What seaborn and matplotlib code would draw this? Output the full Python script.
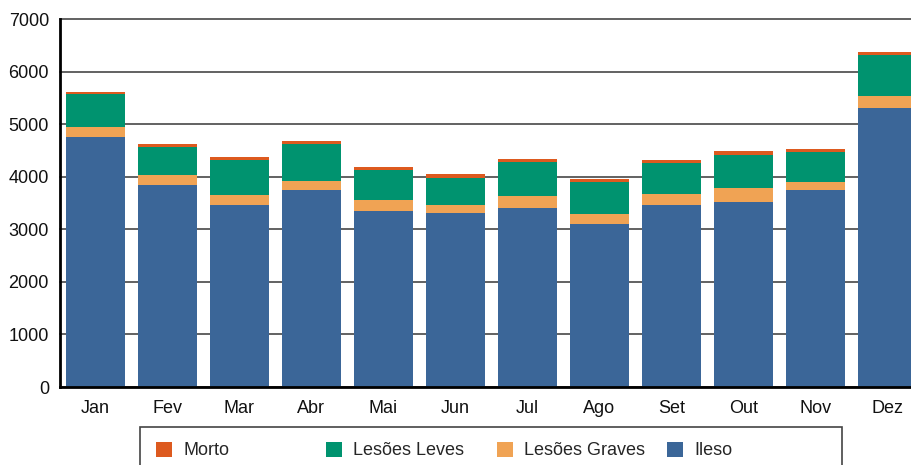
import matplotlib
matplotlib.use("Agg")
import matplotlib.pyplot as plt
import seaborn as sns
import pandas as pd
from matplotlib.patches import Patch, Rectangle

meses = ["Jan", "Fev", "Mar", "Abr", "Mai", "Jun", "Jul", "Ago", "Set", "Out", "Nov", "Dez"]
ileso = [4750, 3840, 3460, 3745, 3345, 3310, 3400, 3100, 3460, 3515, 3745, 5305]
lesoes_graves = [190, 190, 190, 170, 210, 150, 230, 190, 210, 265, 150, 230]
lesoes_leves = [630, 530, 670, 700, 570, 515, 645, 610, 590, 630, 570, 780]
morto = [50, 60, 55, 60, 60, 75, 55, 55, 55, 75, 55, 55]

cores = {
    "Morto": "#DD5A1F",
    "Lesões Leves": "#00936F",
    "Lesões Graves": "#F0A354",
    "Ileso": "#3B6698",
}

df = pd.DataFrame({
    "mes": meses,
    "Ileso": ileso,
    "Lesões Graves": lesoes_graves,
    "Lesões Leves": lesoes_leves,
    "Morto": morto,
})
# totais acumulados para empilhar (desenha do mais alto ao mais baixo)
df["c_ileso"] = df["Ileso"]
df["c_graves"] = df["c_ileso"] + df["Lesões Graves"]
df["c_leves"] = df["c_graves"] + df["Lesões Leves"]
df["c_morto"] = df["c_leves"] + df["Morto"]

sns.set_style("white")
plt.rcParams["font.family"] = ["Liberation Sans", "DejaVu Sans"]

W, H = 911, 465
fig = plt.figure(figsize=(W / 100, H / 100), dpi=100)
ax = fig.add_axes([60 / W, (H - 387) / H, 1 - 60 / W, (387 - 19) / H])

for col, nome in [("c_morto", "Morto"), ("c_leves", "Lesões Leves"),
                  ("c_graves", "Lesões Graves"), ("c_ileso", "Ileso")]:
    sns.barplot(data=df, x="mes", y=col, color=cores[nome], width=0.82,
                saturation=1, ax=ax, zorder=3, edgecolor="none")

ax.set_ylim(0, 7000)
ax.set_xlim(-0.49, 11.33)
ax.set_yticks(range(0, 7001, 1000))
ax.grid(axis="y", color="#555555", linewidth=1.3, zorder=0)
ax.set_axisbelow(True)
for linha in ax.get_ygridlines():
    linha.set_clip_on(False)
ax.set_xlabel("")
ax.set_ylabel("")
for s in ["top", "right"]:
    ax.spines[s].set_visible(False)
for s in ["left", "bottom"]:
    ax.spines[s].set_color("black")
    ax.spines[s].set_linewidth(2)
    ax.spines[s].set_zorder(4)
ax.tick_params(axis="both", length=0, labelsize=13, colors="#111111")
ax.tick_params(axis="y", pad=8)
ax.tick_params(axis="x", pad=9)

# legenda: caixa e quatro entradas com espaçamento igual
fig.add_artist(Rectangle((140 / W, -0.1), 702 / W, 0.1 + 1 - 427 / H,
                         transform=fig.transFigure, fill=False,
                         edgecolor="#444444", linewidth=1.2))
nomes_legenda = ["Morto", "Lesões Leves", "Lesões Graves", "Ileso"]
legenda_x = [156, 326, 497, 667]
for nome, x in zip(nomes_legenda, legenda_x):
    fig.legend([Patch(facecolor=cores[nome], edgecolor="none")], [nome],
               loc="center left", bbox_to_anchor=(x / W, 1 - 450.5 / H),
               frameon=False, fontsize=13, handlelength=0.9, handleheight=0.9,
               handletextpad=0.6, borderpad=0, borderaxespad=0)

fig.savefig("out.png", dpi=100)
